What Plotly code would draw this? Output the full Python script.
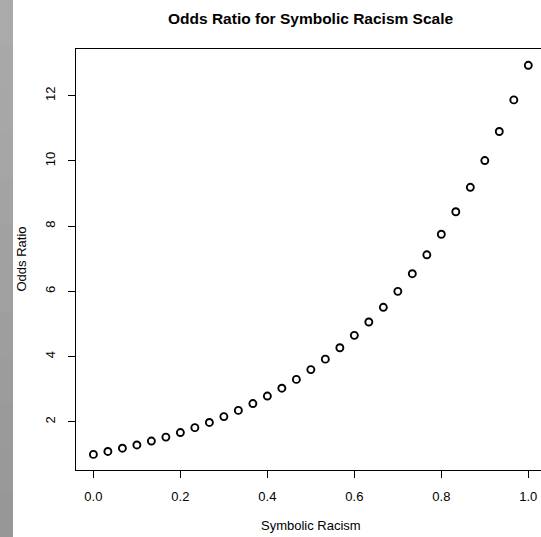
import plotly.graph_objects as go

# Data (31 evenly spaced points)
symbolic_racism = [0.0, 0.0333, 0.0667, 0.1, 0.1333, 0.1667, 0.2, 0.2333, 0.2667, 0.3,
                   0.3333, 0.3667, 0.4, 0.4333, 0.4667, 0.5, 0.5333, 0.5667, 0.6, 0.6333,
                   0.6667, 0.7, 0.7333, 0.7667, 0.8, 0.8333, 0.8667, 0.9, 0.9333, 0.9667, 1.0]
odds_ratio = [1.00, 1.09, 1.19, 1.29, 1.41, 1.53, 1.67, 1.82, 1.98, 2.16,
              2.35, 2.56, 2.79, 3.03, 3.30, 3.60, 3.92, 4.27, 4.65, 5.06,
              5.51, 6.00, 6.54, 7.12, 7.75, 8.44, 9.19, 10.01, 10.90, 11.87, 12.93]
x_ticks = [0.0, 0.2, 0.4, 0.6, 0.8, 1.0]
x_tick_labels = ["0.0", "0.2", "0.4", "0.6", "0.8", "1.0"]
y_ticks = [2, 4, 6, 8, 10, 12]
y_tick_labels = ["2", "4", "6", "8", "10", "12"]

W, H = 541, 537
ML, MR, MT, MB = 76, 0, 49, 67
PW = W - ML - MR
PH = H - MT - MB
FONT = "Liberation Sans, Arial, Helvetica, sans-serif"

fig = go.Figure()
fig.add_trace(go.Scatter(
    x=symbolic_racism, y=odds_ratio, mode="markers",
    marker=dict(symbol="circle-open", size=7, color="black",
                line=dict(color="black", width=1.9)),
    cliponaxis=False, showlegend=False, hoverinfo="x+y",
))

# gray strip at the left edge (vertical gradient), overlapping bands
shapes = []
n = 12
band = (H / PH) / n
for i in range(n):
    t = i / (n - 1)
    g = round(170 - t * (170 - 151))
    top = 1 + MT / PH - i * band
    shapes.append(dict(type="rect", xref="paper", yref="paper",
                       x0=-ML / PW - 0.01, x1=(13 - ML) / PW,
                       y0=top - band - 0.01, y1=top + (0.01 if i == 0 else 0),
                       line=dict(width=0), fillcolor=f"rgb({g},{g},{g})", layer="below"))

cx = (310.8 - ML) / PW
annotations = [
    dict(text="<b>Odds Ratio for Symbolic Racism Scale</b>", xref="paper", yref="paper",
         x=cx, y=1 + (MT - 18.5) / PH, xanchor="center", yanchor="middle",
         showarrow=False, font=dict(family=FONT, size=15.5, color="black")),
    dict(text="Symbolic Racism", xref="paper", yref="paper",
         x=cx, y=-(525.5 - (MT + PH)) / PH, xanchor="center", yanchor="middle",
         showarrow=False, font=dict(family=FONT, size=13, color="black")),
    dict(text="Odds Ratio", xref="paper", yref="paper",
         x=(21 - ML) / PW, y=0.5, xanchor="center", yanchor="middle", textangle=-90,
         showarrow=False, font=dict(family=FONT, size=13, color="black")),
]

fig.update_layout(
    width=W, height=H, autosize=False,
    margin=dict(l=ML, r=MR, t=MT, b=MB, pad=0),
    paper_bgcolor="white", plot_bgcolor="white",
    font=dict(family=FONT, size=13, color="black"),
    shapes=shapes, annotations=annotations,
    xaxis=dict(range=[-0.04, 1.0292], tickvals=x_ticks, ticktext=x_tick_labels,
               showgrid=False, zeroline=False, showline=True, linecolor="black",
               linewidth=1, mirror=True, ticks="outside", ticklen=7, tickwidth=1,
               tickcolor="black", ticklabelstandoff=7,
               tickfont=dict(family=FONT, size=13, color="black")),
    yaxis=dict(range=[0.522, 13.43], tickvals=y_ticks, ticktext=y_tick_labels,
               showgrid=False, zeroline=False, showline=True, linecolor="black",
               linewidth=1, mirror=False, ticks="outside", ticklen=7, tickwidth=1,
               tickcolor="black", tickangle=-90, ticklabelstandoff=8,
               tickfont=dict(family=FONT, size=13, color="black")),
)

fig.write_html("out.html", config={"displayModeBar": False},
               post_script="document.body.style.margin='0';document.body.style.overflow='hidden';")
